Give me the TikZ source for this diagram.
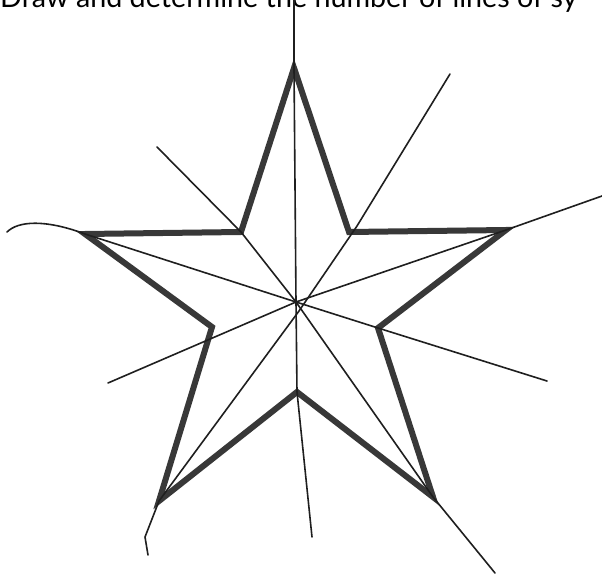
\documentclass[tikz,border=0pt]{standalone}
\usepackage{fontspec}
\setmainfont{Lato}
\usepackage{tikz}
\usetikzlibrary{positioning}

\begin{document}
\begin{tikzpicture}[x=1pt,y=-1pt,
  starline/.style={draw=black!78,line width=6pt,line join=miter},
  symline/.style={draw=black!88,line width=1.6pt,line cap=round,line join=round}]
\useasboundingbox (0,0) rectangle (602,577);
\clip (0,0) rectangle (602,577);
\fill[white] (0,0) rectangle (602,577);

\node[anchor=base west,inner sep=0pt,font=\fontsize{28.7}{32}\selectfont] (task) at (0,8) {Draw and determine the number of lines of sy};

% corners of the star
\coordinate (top)   at (294,68);
\coordinate (urin)  at (349,232);
\coordinate (rtip)  at (506,230);
\coordinate (rin)   at (378,328);
\coordinate (brtip) at (433,497);
\coordinate (bin)   at (297,392);
\coordinate (bltip) at (159,501);
\coordinate (lin)   at (212,327);
\coordinate (ltip)  at (85,234);
\coordinate (ulin)  at (241,232);
\coordinate (ctr)   at (296,302);

% free ends of the lines of symmetry
\coordinate (vtop)   at (294,0);
\coordinate (vbot)   at (312,537);
\coordinate (lend)   at (7,232);
\coordinate (rinend) at (547,381);
\coordinate (rend)   at (602,196);
\coordinate (linend) at (108,383);
\coordinate (urend)  at (450,74);
\coordinate (urmid)  at (357,226);
\coordinate (lowctr) at (299,311);
\coordinate (bltail) at (145,537);
\coordinate (blend)  at (148,555);
\coordinate (ulend)  at (157,147);
\coordinate (brend)  at (495,573);

\draw[starline] (top) -- (urin) -- (rtip) -- (rin) -- (brtip) -- (bin)
  -- (bltip) -- (lin) -- (ltip) -- (ulin) -- cycle;

\draw[symline] (vtop) -- (top) -- (ctr) -- (bin) -- (vbot);
\draw[symline] (lend) .. controls (18,221) and (45,219) .. (ltip) -- (ctr) -- (rin) -- (rinend);
\draw[symline] (rend) -- (rtip) -- (ctr) -- (linend);
\draw[symline] (urend) -- (urmid) -- (lowctr) -- (bltip) -- (bltail) -- (blend);
\draw[symline] (ulend) -- (ulin) -- (ctr) -- (brtip) -- (brend);
\end{tikzpicture}
\end{document}
